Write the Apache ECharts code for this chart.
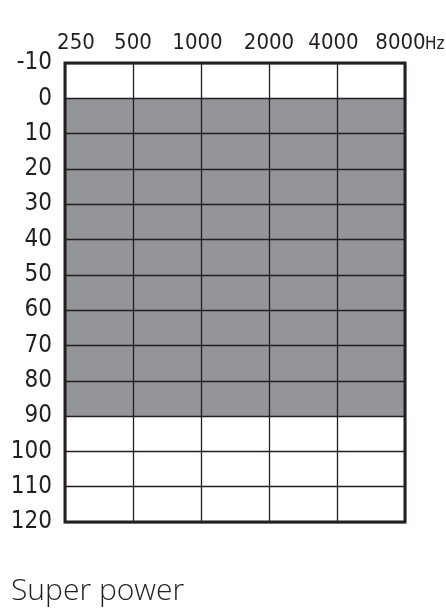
<!DOCTYPE html>
<html><head><meta charset="utf-8">
<script src="https://cdn.jsdelivr.net/npm/echarts@6/dist/echarts.min.js"></script>
<style>html,body{margin:0;padding:0;background:#fff}#c{width:446px;height:616px}</style>
</head><body><div id="c"></div>
<script>
const frequencies = ['250', '500', '1000', '2000', '4000', '8000'];
const rangeTop = [0, 0, 0, 0, 0, 0];        // dB HL, upper edge of fitting range
const rangeBottom = [90, 90, 90, 90, 90, 90]; // dB HL, lower edge of fitting range
const yMin = -10, yMax = 120, yStep = 10;
const title = 'Super power';
const unit = 'Hz';

const bandHeight = rangeBottom.map((v, i) => v - rangeTop[i]);
const ink = '#231f20';
const numFont = '"Liberation Sans Narrow", "DejaVu Sans Condensed", sans-serif';

const chart = echarts.init(document.getElementById('c'), null, {renderer: 'canvas'});
chart.setOption({
  animation: false,
  grid: {left: 65, right: 41, top: 63, bottom: 94, show: true, borderColor: ink, borderWidth: 3, z: 6, backgroundColor: 'transparent'},
  xAxis: {
    type: 'category', position: 'top', data: frequencies, boundaryGap: false, z: 5,
    axisLine: {show: false}, axisTick: {show: false},
    splitLine: {show: true, interval: 0, lineStyle: {color: ink, width: 1.3}},
    axisLabel: {
      interval: 0, hideOverlap: false,
      color: ink, fontFamily: numFont, fontSize: 22, margin: 9,
      formatter: (v, i) => i === 0 ? '{first|' + v + '}' : (i === frequencies.length - 1 ? '{last|' + v + '}' : (i === 2 || i === 4 ? '{shl|' + v + '}' : v)),
      rich: {
        first: {fontFamily: numFont, fontSize: 22, color: ink, padding: [0, 0, 0, 22]},
        last: {fontFamily: numFont, fontSize: 22, color: ink, padding: [0, 9, 0, 0]},
        shl: {fontFamily: numFont, fontSize: 22, color: ink, padding: [0, 7, 0, 0]}
      }
    }
  },
  yAxis: {
    type: 'value', inverse: true, min: yMin, max: yMax, interval: yStep, z: 5,
    axisLine: {show: false}, axisTick: {show: false},
    splitLine: {show: true, lineStyle: {color: ink, width: 1.3}},
    axisLabel: {color: ink, fontFamily: numFont, fontSize: 24, margin: 13, padding: [12, 0, 0, 0]}
  },
  series: [
    {type: 'line', stack: 'range', data: rangeTop, symbol: 'none', lineStyle: {width: 0}, silent: true, z: 2},
    {type: 'line', stack: 'range', data: bandHeight, symbol: 'none', lineStyle: {width: 0},
     areaStyle: {color: '#939598', opacity: 1}, silent: true, z: 2}
  ],
  graphic: [
    {type: 'text', left: 425, top: 36, style: {text: unit, fontFamily: numFont, fontSize: 17, fill: ink}},
    {type: 'text', left: 11, top: 576, style: {text: title, fontFamily: '"Open Sans", sans-serif', fontWeight: 300, fontSize: 30, fill: ink}}
  ]
});
</script></body></html>
